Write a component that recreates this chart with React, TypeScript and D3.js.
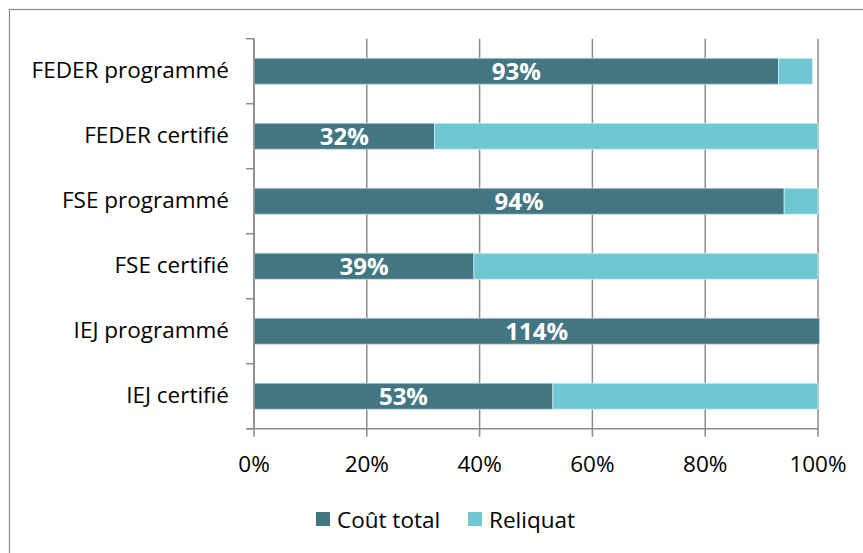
import React from "react";
import * as d3 from "d3";

const categories = ["FEDER programmé", "FEDER certifié", "FSE programmé", "FSE certifié", "IEJ programmé", "IEJ certifié"];
const coutTotal = [93, 32, 94, 39, 114, 53];
const reliquat = [6, 68, 6, 61, 0, 47];
const xTicks = [0, 20, 40, 60, 80, 100];
const seriesNames = ["Coût total", "Reliquat"];
const colors = ["#427682", "#70C6D3"];

const W = 863, H = 553;
const left = 254, right = 818, top = 38.7, bottom = 428.7;
const FONT = "'Open Sans', Lato, sans-serif";
const FS = 22.5;

export default function App() {
  const x = d3.scaleLinear().domain([0, 100]).range([left, right]);
  const y = d3.scaleBand().domain(categories).range([top, bottom]).paddingInner(0.6).paddingOuter(0.3);
  const step = y.step();
  const clipX = (v: number) => Math.min(x(v), right + 1.5);

  return (
    <svg width={W} height={H} style={{ position: "absolute", left: 0, top: 0, background: "#fff" }}>
      <rect x={9.5} y={9.5} width={W + 10} height={H + 10} fill="white" stroke="#888" strokeWidth={1.2} />
      {xTicks.map((t) => (
        <line key={t} x1={x(t)} x2={x(t)} y1={top} y2={bottom + 8} stroke="#8c8c8c" strokeWidth={1.5} />
      ))}
      {categories.map((c, i) => {
        const yy = y(c)!;
        const h = y.bandwidth();
        const x1 = clipX(coutTotal[i]);
        const x2 = clipX(coutTotal[i] + reliquat[i]);
        return (
          <g key={c}>
            <rect x={x(0)} y={yy} width={x1 - x(0)} height={h} fill={colors[0]} stroke="#c8d8dc" strokeWidth={0.8} />
            {reliquat[i] > 0 && (
              <rect x={x1} y={yy} width={x2 - x1} height={h} fill={colors[1]} stroke="#d6f0f4" strokeWidth={0.8} />
            )}
            <text x={(x(0) + x1) / 2} y={yy + h / 2} dy="0.37em" textAnchor="middle" fill="white"
              fontFamily={FONT} fontWeight={700} fontSize={24}>{coutTotal[i]}%</text>
            <text x={229} y={yy + h / 2} dy="0.32em" textAnchor="end" fill="#000"
              fontFamily={FONT} fontSize={FS}>{c}</text>
          </g>
        );
      })}
      <line x1={left} x2={left} y1={top} y2={bottom} stroke="#8c8c8c" strokeWidth={1.5} />
      {d3.range(categories.length + 1).map((k) => (
        <line key={k} x1={left - 8} x2={left} y1={top + k * step} y2={top + k * step} stroke="#8c8c8c" strokeWidth={1.5} />
      ))}
      <line x1={left - 8} x2={right} y1={bottom} y2={bottom} stroke="#8c8c8c" strokeWidth={1.5} />
      {xTicks.map((t) => (
        <text key={t} x={x(t)} y={464} dy="0.35em" textAnchor="middle" fill="#000" fontFamily={FONT} fontSize={FS}>{t}%</text>
      ))}
      {seriesNames.map((s, i) => {
        const lx = i === 0 ? 316 : 468;
        return (
          <g key={s}>
            <rect x={lx} y={512} width={14} height={14} fill={colors[i]} />
            <text x={lx + 21} y={520} dy="0.35em" fill="#000" fontFamily={FONT} fontSize={FS}>{s}</text>
          </g>
        );
      })}
    </svg>
  );
}
